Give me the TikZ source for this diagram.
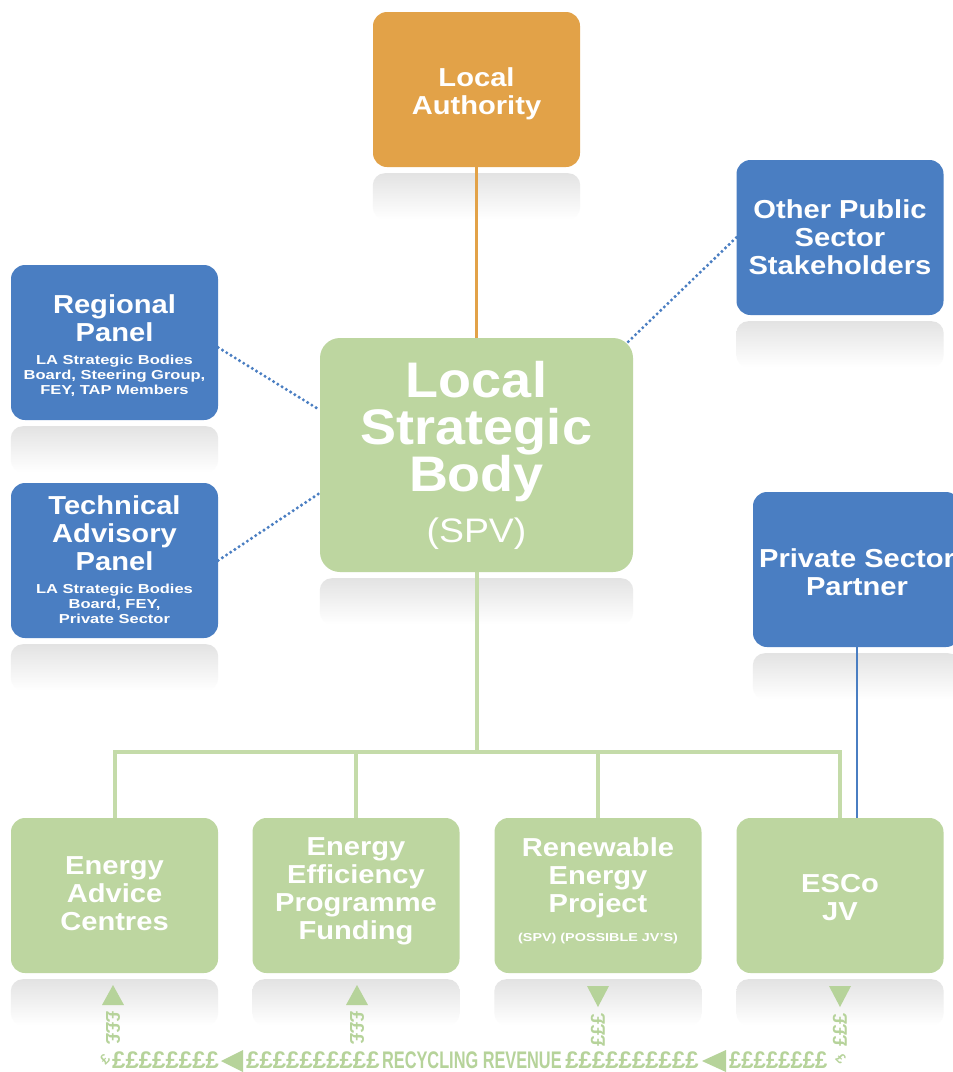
\documentclass[tikz,border=0pt]{standalone}
\usepackage{fontspec}
\setmainfont{Liberation Sans}
\definecolor{orng}{HTML}{E2A248}
\definecolor{blu}{HTML}{4A7EC2}
\definecolor{grn}{HTML}{BDD6A0}
\definecolor{grnline}{HTML}{C4DBA9}
\definecolor{grntext}{HTML}{B6D39A}
\pgfdeclarelayer{refl}
\pgfdeclarelayer{lines}
\pgfsetlayers{refl,lines,main}
\tikzset{
  box/.style={rounded corners=14pt, minimum width=207pt, minimum height=155pt, inner sep=0pt, draw=none},
  tbig/.style={text=white, font=\fontsize{26}{28}\selectfont\bfseries, align=center, inner sep=0pt, xscale=1.12},
  tsmall/.style={text=white, font=\fontsize{13}{15}\selectfont\bfseries, align=center, inner sep=0pt, xscale=1.27},
  tlsb/.style={text=white, font=\fontsize{50}{47}\selectfont\bfseries, align=center, inner sep=0pt, xscale=1.08},
  tspv/.style={text=white, font=\fontsize{34}{36}\selectfont, inner sep=0pt, xscale=1.1},
  tsub/.style={text=white, font=\fontsize{11.5}{12}\selectfont\bfseries, inner sep=0pt, xscale=1.25},
  money/.style={text=grntext, font=\fontsize{24}{24}\selectfont\bfseries, inner sep=0pt},
  vmoney/.style={text=grntext, font=\fontsize{20}{20}\selectfont\bfseries, inner sep=0pt},
  dotline/.style={draw=blu, line width=3.4pt, line cap=round, dash pattern=on 0pt off 5pt},
  greenline/.style={draw=grnline, line width=4pt},
}
\newcommand\mirrorbox[1]{\shade[top color=black!11, bottom color=white, rounded corners=12pt] ([yshift=-6pt]#1.south west) rectangle ([yshift=-52pt]#1.south east);}
\begin{document}
\begin{tikzpicture}[x=1pt,y=-1pt]
\useasboundingbox (0,0) rectangle (953,1072);
\clip (0,0) rectangle (953,1072);
% boxes
\node[box, fill=orng] (la) at (476.5,89.5) {};
\node[box, fill=blu] (ops) at (840,237.5) {};
\node[box, fill=blu] (reg) at (114.5,342.5) {};
\node[box, fill=blu] (tap) at (114.5,560.5) {};
\node[box, fill=grn, minimum width=313pt, minimum height=234pt, rounded corners=20pt] (lsb) at (476.5,455) {};
\node[box, fill=blu] (psp) at (856.5,569.5) {};
\node[box, fill=grn] (b1) at (114.5,895.5) {};
\node[box, fill=grn] (b2) at (356,895.5) {};
\node[box, fill=grn] (b3) at (598,895.5) {};
\node[box, fill=grn] (b4) at (840,895.5) {};
% texts
\node[tbig] (laT) at (476.5,94) {Local\\Authority};
\node[tbig] (opsT) at (840,237) {Other Public\\Sector\\Stakeholders};
\node[tbig] (regT) at (114.5,318) {Regional\\Panel};
\node[tsmall] (regS) at (114.5,376) {LA Strategic Bodies\\Board, Steering Group,\\FEY, TAP Members};
\node[tbig] (tapT) at (114.5,533.5) {Technical\\Advisory\\Panel};
\node[tsmall] (tapS) at (114.5,603.5) {LA Strategic Bodies\\Board, FEY,\\Private Sector};
\node[tbig] (pspT) at (857,572) {Private Sector\\Partner};
\node[tlsb] (lsbT) at (476.5,432) {Local\\Strategic\\Body};
\node[tspv] (lsbS) at (476.5,534) {(SPV)};
\node[tbig] (b1T) at (114.5,894) {Energy\\Advice\\Centres};
\node[tbig] (b2T) at (356,891) {Energy\\Efficiency\\Programme\\Funding};
\node[tbig] (b3T) at (598,878) {Renewable\\Energy\\Project};
\node[tsub] (b3S) at (598,939) {(SPV) (POSSIBLE JV'S)};
\node[tbig] (b4T) at (840,897.5) {ESCo\\JV};
% reflections
\begin{pgfonlayer}{refl}
\fill[white] (0,0) rectangle (953,1072);
\mirrorbox{la}\mirrorbox{ops}\mirrorbox{reg}\mirrorbox{tap}\mirrorbox{lsb}\mirrorbox{psp}
\mirrorbox{b1}\mirrorbox{b2}\mirrorbox{b3}\mirrorbox{b4}
\end{pgfonlayer}
% connectors
\begin{pgfonlayer}{lines}
\coordinate (bus) at (476.5,752);
\draw[orng, line width=3.4pt] (la.south) -- (lsb.north);
\draw[greenline] (lsb.south) -- (bus);
\draw[greenline] (b1.north) -- (b1.north |- bus) -- (b4.north |- bus) -- (b4.north);
\draw[greenline] (b2.north) -- (b2.north |- bus);
\draw[greenline] (b3.north) -- (b3.north |- bus);
\draw[blu, line width=2pt] (psp.south) -- (psp.south |- b4.north);
\draw[dotline] ([yshift=-5pt]reg.east) -- ([yshift=45pt]lsb.west);
\draw[dotline] (tap.east) -- ([yshift=-38pt]lsb.west);
\draw[dotline] (ops.west) -- ([xshift=-5pt,yshift=-4pt]lsb.north east);
\end{pgfonlayer}
% recycling revenue
\fill[grntext] (113,985) -- (102,1005) -- (124,1005) -- cycle;
\fill[grntext] (357,985) -- (346,1005) -- (368,1005) -- cycle;
\fill[grntext] (598,1007) -- (587,986) -- (609,986) -- cycle;
\fill[grntext] (840,1007) -- (829,986) -- (851,986) -- cycle;
\node[vmoney, rotate=-90] (v1) at (113,1028) {£££};
\node[vmoney, rotate=-90] (v2) at (357,1028) {£££};
\node[vmoney, rotate=90] (v3) at (598,1030) {£££};
\node[vmoney, rotate=90] (v4) at (840,1030) {£££};
\node[vmoney, rotate=45, font=\fontsize{14}{14}\selectfont\bfseries] (c1) at (105,1059) {£};
\node[vmoney, rotate=-45, font=\fontsize{14}{14}\selectfont\bfseries] (c2) at (841,1059) {£};
\node[money, anchor=base west] (m1) at (112,1068) {££££££££};
\fill[grntext] (221,1061) -- (243,1050) -- (243,1072) -- cycle;
\node[money, anchor=base west] (m2) at (246,1068) {££££££££££};
\node[money, anchor=base west, xscale=0.68] (rr) at (382,1068) {RECYCLING REVENUE};
\node[money, anchor=base east] (m3) at (699,1068) {££££££££££};
\fill[grntext] (702,1061) -- (726,1050) -- (726,1072) -- cycle;
\node[money, anchor=base west, xscale=0.92] (m4) at (729,1068) {££££££££};
\end{tikzpicture}
\end{document}
